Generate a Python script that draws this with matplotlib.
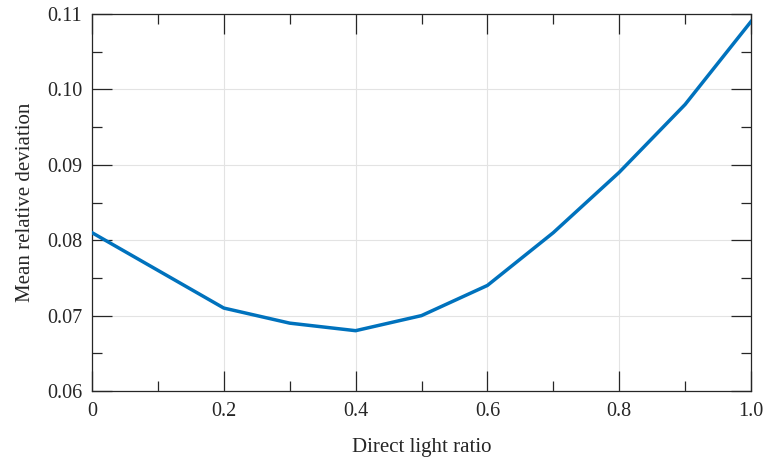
import numpy as np
import matplotlib.pyplot as plt
from matplotlib.ticker import MultipleLocator

plt.rcParams['font.family'] = ['Liberation Serif', 'DejaVu Serif']
plt.rcParams['mathtext.fontset'] = 'stix'

ratio = [0.0, 0.1, 0.2, 0.3, 0.4, 0.5, 0.6, 0.7, 0.8, 0.9, 1.0]
deviation = [0.081, 0.076, 0.071, 0.069, 0.068, 0.070, 0.074, 0.081, 0.089, 0.098, 0.109]
xticks = [0, 0.2, 0.4, 0.6, 0.8, 1.0]
xtick_labels = ['0', '0.2', '0.4', '0.6', '0.8', '1.0']

fig = plt.figure(figsize=(7.63, 4.57), dpi=100)
ax = fig.add_axes([92 / 763, 1 - 391 / 457, (751 - 92) / 763, (391 - 14) / 457])

ax.plot(ratio, deviation, color='#0072BD', linewidth=2.5, zorder=3)

ax.set_xlim(0, 1.0)
ax.set_ylim(0.06, 0.11)
ax.set_xticks(xticks)
ax.set_xticklabels(xtick_labels)
ax.yaxis.set_major_locator(MultipleLocator(0.01))
ax.yaxis.set_major_formatter(plt.FormatStrFormatter('%.2f'))
ax.xaxis.set_minor_locator(MultipleLocator(0.1))
ax.yaxis.set_minor_locator(MultipleLocator(0.005))

ax.grid(True, which='major', color='#e3e3e3', linewidth=0.8)
ax.set_axisbelow(True)

ax.tick_params(which='both', direction='in', top=True, right=True,
               colors='#262626', labelsize=14.5, width=0.9)
ax.tick_params(axis='x', pad=8)
ax.tick_params(axis='y', pad=7)
ax.tick_params(which='major', length=14.5)
ax.tick_params(which='minor', length=7.5)
for s in ax.spines.values():
    s.set_color('#262626')
    s.set_linewidth(0.9)

ax.set_xlabel('Direct light ratio', fontsize=15, color='#262626', labelpad=12)
ax.set_ylabel('Mean relative deviation', fontsize=15, color='#262626', labelpad=9)

fig.savefig('out.png', dpi=100)
